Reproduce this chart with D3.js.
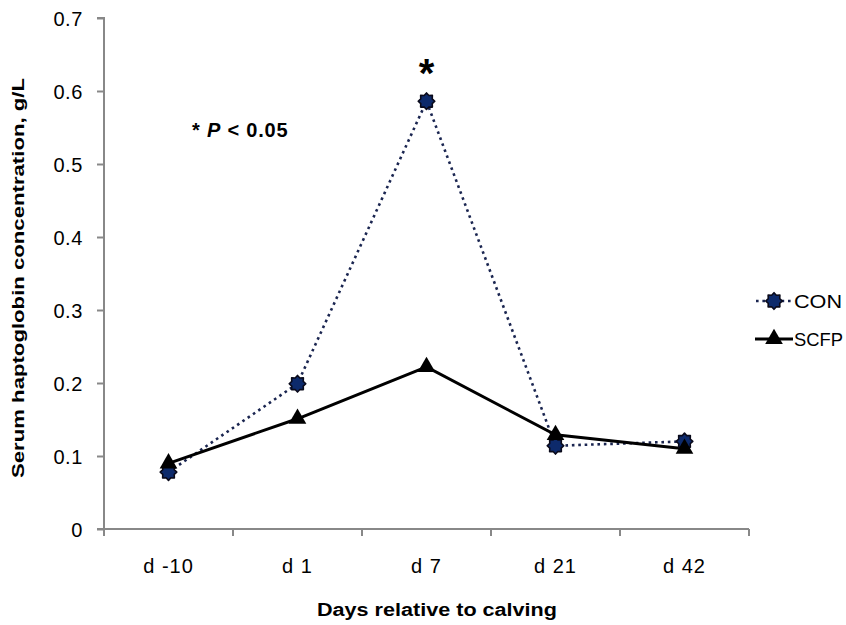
<!DOCTYPE html>
<html><head><meta charset="utf-8">
<script src="https://cdn.jsdelivr.net/npm/d3@7"></script>
<style>body{margin:0;background:#fff}svg{display:block}</style>
</head><body>
<svg id="c" width="846" height="625"></svg>
<script>
const categories = ["d -10", "d 1", "d 7", "d 21", "d 42"];
const conValues = [0.078, 0.199, 0.586, 0.114, 0.120];
const scfpValues = [0.090, 0.151, 0.222, 0.129, 0.110];
const yTicks = [0, 0.1, 0.2, 0.3, 0.4, 0.5, 0.6, 0.7];
const yTickLabels = ["0", "0.1", "0.2", "0.3", "0.4", "0.5", "0.6", "0.7"];
const seriesNames = ["CON", "SCFP"];

const svg = d3.select("#c");
const font = "'Liberation Sans', Arial, sans-serif";
const mLeft = 104, mRight = 749, mTop = 18, mBottom = 529;

const x = d3.scaleBand().domain(categories).range([mLeft, mRight]);
const y = d3.scaleLinear().domain([0, 0.7]).range([mBottom, mTop]);

// y axis
const yAxis = d3.axisLeft(y).tickValues(yTicks).tickSize(7)
  .tickFormat((d, i) => yTickLabels[i]);
const gy = svg.append("g").attr("transform", `translate(${mLeft},0)`).call(yAxis);
gy.select(".domain").attr("stroke", "#888").attr("stroke-width", 2).attr("d", `M-7,${mTop}H0V${mBottom}`);
gy.selectAll(".tick line").attr("stroke", "#888").attr("stroke-width", 2);
gy.selectAll(".tick text").attr("font-family", font).attr("font-size", 20)
  .attr("letter-spacing", 0.6).attr("fill", "#000").attr("x", -21).attr("dy", "0.35em");

// x axis
const gx = svg.append("g").attr("transform", `translate(0,${mBottom})`);
gx.append("line").attr("x1", mLeft - 7).attr("x2", mRight).attr("y1", 0).attr("y2", 0)
  .attr("stroke", "#888").attr("stroke-width", 2);
const bounds = categories.map(c => x(c)).concat([mRight]);
gx.selectAll("line.t").data(bounds).enter().append("line").attr("class", "t")
  .attr("x1", d => d).attr("x2", d => d).attr("y1", 0).attr("y2", 7)
  .attr("stroke", "#888").attr("stroke-width", 2);
gx.selectAll("text").data(categories).enter().append("text")
  .attr("x", d => x(d) + x.bandwidth() / 2).attr("y", 44)
  .attr("text-anchor", "middle").attr("font-family", font).attr("font-size", 20)
  .attr("letter-spacing", 1).text(d => d);

const cx = d => x(d) + x.bandwidth() / 2;

// lines
const line = d3.line().x(d => cx(d[0])).y(d => y(d[1]));
svg.append("path").datum(categories.map((c, i) => [c, conValues[i]]))
  .attr("d", line).attr("fill", "none").attr("stroke", "#1a2550")
  .attr("stroke-width", 2.6).attr("stroke-dasharray", "2.6,3.8");
svg.append("path").datum(categories.map((c, i) => [c, scfpValues[i]]))
  .attr("d", line).attr("fill", "none").attr("stroke", "#000").attr("stroke-width", 3);

// markers: rounded 8-point star
const starPts = d3.range(16).map(k => [k * Math.PI / 8, k % 2 ? 6.2 : 8.3]);
const starPath = d3.lineRadial().curve(d3.curveLinearClosed)(starPts);
function starMark(g) {
  g.append("path").attr("d", starPath).attr("fill", "#0d2a6b")
    .attr("stroke", "#0a0a1a").attr("stroke-width", 1.6).attr("stroke-linejoin", "round");
}
const tri = d3.symbol().type(d3.symbolTriangle).size(135);
function triMark(g) {
  g.append("path").attr("d", tri()).attr("fill", "#000");
}
categories.forEach((c, i) => {
  starMark(svg.append("g").attr("transform", `translate(${cx(c)},${y(conValues[i])})`));
});
categories.forEach((c, i) => {
  triMark(svg.append("g").attr("transform", `translate(${cx(c)},${y(scfpValues[i])})`));
});

// significance asterisk
svg.append("text").attr("x", cx("d 7")).attr("y", 87).attr("text-anchor", "middle")
  .attr("font-family", font).attr("font-size", 40).attr("font-weight", "bold").text("*");

// note
const note = svg.append("text").attr("x", 192).attr("y", 137)
  .attr("font-family", font).attr("font-size", 20).attr("font-weight", "bold")
  .attr("letter-spacing", 0.8);
note.append("tspan").text("* ");
note.append("tspan").attr("font-style", "italic").text("P");
note.append("tspan").text(" < 0.05");

// legend
const lg = svg.append("g");
[0, 1].forEach(i => {
  const ly = 301 + i * 38;
  if (i === 0) {
    lg.append("line").attr("x1", 756).attr("x2", 792).attr("y1", ly).attr("y2", ly)
      .attr("stroke", "#1a2550").attr("stroke-width", 2.6).attr("stroke-dasharray", "2.6,3.8");
    starMark(lg.append("g").attr("transform", `translate(774,${ly})`));
  } else {
    lg.append("line").attr("x1", 755).attr("x2", 793).attr("y1", ly).attr("y2", ly)
      .attr("stroke", "#000").attr("stroke-width", 3);
    triMark(lg.append("g").attr("transform", `translate(774,${ly})`));
  }
  lg.append("text").attr("x", 794).attr("y", ly + 7).attr("font-family", font)
    .attr("font-size", 19).attr("textLength", i === 0 ? 48 : 49)
    .attr("lengthAdjust", "spacingAndGlyphs").text(seriesNames[i]);
});

// axis titles
svg.append("text").attr("transform", `translate(24,278) rotate(-90)`)
  .attr("text-anchor", "middle").attr("font-family", font).attr("font-size", 17)
  .attr("font-weight", "bold").attr("textLength", 400).attr("lengthAdjust", "spacingAndGlyphs")
  .text("Serum haptoglobin concentration, g/L");
svg.append("text").attr("x", 437).attr("y", 616).attr("text-anchor", "middle")
  .attr("font-family", font).attr("font-size", 18).attr("font-weight", "bold")
  .attr("textLength", 240).attr("lengthAdjust", "spacingAndGlyphs")
  .text("Days relative to calving");
</script>
</body></html>
